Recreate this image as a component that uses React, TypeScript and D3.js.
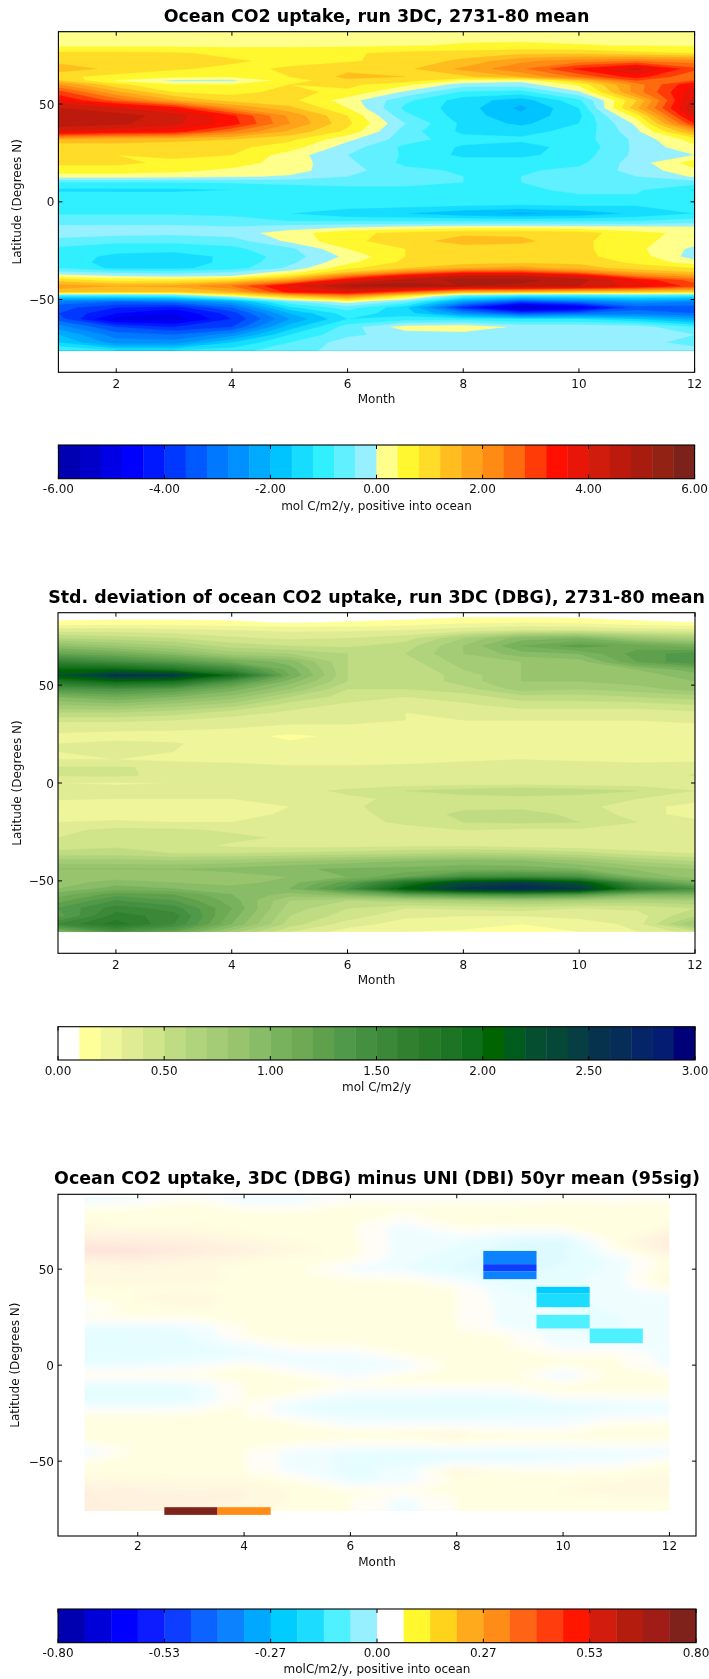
import React from "react";
import * as d3 from "d3";

const months = [1, 2, 3, 4, 5, 6, 7, 8, 9, 10, 11, 12];

const fluxLats = [87, 80, 76, 72, 68, 64, 62, 60, 56, 52, 48, 44, 40, 36, 32, 28, 24, 20, 16, 13, 10, 6, 2, -2, -6, -10, -13, -16, -20, -24, -28, -31, -34, -36, -38, -40, -43, -46, -48, -51, -54, -57, -60, -64, -68, -72, -76];
const fluxRows = [
  [.2, .2, .2, .2, .2, .2, .2, .2, .2, .2, .2, .2],
  [.3, .3, .3, .3, .3, .32, .36, .44, .46, .42, .38, .34],
  [.9, .9, .85, .7, .7, .75, .9, 1.0, 1.1, 1.1, .9, .8],
  [1.1, 1.1, 1.0, .85, .7, .75, .95, 1.3, 1.9, 2.2, 2.4, 2.2],
  [1.4, 1.1, .85, .7, .85, 1.1, 1.1, 1.7, 2.3, 3.3, 4.1, 2.9],
  [.9, .65, .5, .45, .8, 1.3, 1.2, 1.1, 1.6, 2.5, 3.4, 2.4],
  [1.2, .35, -.1, -.1, .6, 1.1, 1.0, .3, .1, 1.2, 2.8, 2.8],
  [2.0, .9, .4, .4, .8, .9, .5, -.2, -.2, .5, 2.2, 3.6],
  [3.0, 1.7, .8, .7, .9, .7, -.1, -.9, -1.0, -.1, 2.2, 3.9],
  [3.6, 2.6, 1.6, 1.0, .9, .2, -.7, -1.4, -1.8, -.9, 1.2, 4.2],
  [4.4, 4.0, 3.4, 2.0, 1.3, .4, -.9, -1.4, -2.1, -1.2, 1.5, 4.4],
  [4.6, 4.6, 4.2, 3.3, 1.9, .8, -.7, -1.4, -1.9, -1.3, .6, 4.0],
  [4.7, 4.5, 4.1, 3.4, 2.0, .9, -.4, -1.3, -1.7, -1.2, .1, 3.2],
  [3.9, 3.6, 3.4, 2.4, 1.5, .7, -.6, -1.3, -1.3, -1.1, -.1, 1.7],
  [1.6, 1.4, 1.3, 1.2, .9, .1, -.6, -1.05, -1.15, -1.0, -.3, .6],
  [.8, 1.0, 1.0, .9, .6, -.2, -.9, -1.25, -1.3, -1.1, -.3, .3],
  [.9, .8, .9, .8, .2, -.4, -.85, -1.3, -1.3, -1.0, -.3, .0],
  [.9, .9, .7, .6, .2, -.3, -.9, -1.0, -1.0, -.9, -.2, .6],
  [.6, .6, .5, .3, .15, -.25, -.7, -.85, -.85, -.7, -.25, .3],
  [.2, .2, .15, .05, -.05, -.4, -.7, -.8, -.8, -.7, -.4, .05],
  [-.8, -.8, -.8, -.75, -.7, -.7, -.75, -.8, -.8, -.75, -.7, -.6],
  [-1.3, -1.3, -1.3, -1.2, -1.0, -.9, -.85, -.85, -.85, -.75, -.75, -1.25],
  [-.85, -.9, -.9, -.9, -.85, -.85, -.8, -.85, -.85, -.85, -.85, -.9],
  [-.9, -.9, -.85, -.9, -.9, -1.0, -1.1, -1.2, -1.25, -1.2, -1.2, -.9],
  [-.85, -.85, -.85, -.85, -1.2, -1.5, -1.6, -1.9, -2.1, -1.9, -1.5, -1.2],
  [-.5, -.5, -.5, -.7, -.8, -.8, -.8, -.8, -.8, -.8, -.8, -.6],
  [-.35, -.35, -.35, -.35, -.2, -.05, .1, .2, .2, .15, .1, .05],
  [-.25, -.25, -.3, -.2, .2, .7, .9, 1.1, 1.1, 1.0, .5, .3],
  [-.5, -.7, -.7, -.6, .1, .7, 1.0, 1.4, 1.3, .9, .5, .2],
  [-.9, -1.05, -1.05, -.9, -.5, .4, .8, 1.0, 1.0, .9, .5, -.1],
  [-1.0, -1.3, -1.4, -1.1, -.6, .1, .8, .9, .9, .9, .6, -.2],
  [-1.0, -1.35, -1.4, -1.1, -.5, .3, .9, 1.0, 1.1, 1.1, .7, .2],
  [-.8, -1.3, -1.3, -1.0, -.3, .7, 1.2, 1.6, 1.8, 1.4, 1.0, .8],
  [-.3, -.5, -.6, -.4, .2, 1.2, 2.2, 3.0, 3.0, 2.4, 1.6, 1.2],
  [.2, 0, -.1, .0, .8, 2.4, 3.6, 4.4, 4.4, 3.8, 2.4, 1.8],
  [1.0, .6, .6, .9, 1.8, 3.6, 4.6, 4.9, 4.9, 4.6, 3.5, 2.6],
  [1.8, 1.6, 1.7, 2.4, 3.8, 4.8, 5.0, 4.8, 4.7, 4.4, 3.8, 3.0],
  [1.4, 1.2, 1.2, 1.6, 3.4, 3.9, 2.8, 1.6, 1.4, 1.2, 1.2, 1.0],
  [-1, -1.0, -.8, .3, 1.4, 2.2, .8, -.7, -1, -1, -.9, -1.0],
  [-3.0, -3.2, -3.0, -2.2, -.5, .2, -.5, -2.4, -3.6, -3, -2.5, -2.8],
  [-3.4, -4, -4.2, -3.2, -1.3, -.6, -1.5, -4.0, -5.6, -5.0, -3.4, -3.4],
  [-3.6, -4.4, -4.8, -3.8, -2.0, -1.0, -1.4, -2.6, -3.6, -3.2, -3, -3.2],
  [-3.4, -5, -5.1, -4.0, -2.4, -1.2, -1, -1.0, -1.2, -1.2, -1.6, -2.2],
  [-2.6, -3.6, -4.0, -3.6, -1.8, -.6, .2, .3, -.1, -.1, -.2, -.8],
  [-2.0, -3.0, -3.2, -2.6, -1.2, -.5, -.2, -.2, -.25, -.25, -.25, -.4],
  [-1.6, -2.6, -2.6, -1.6, -.8, -.2, -.25, -.25, -.25, -.25, -.3, -.5],
  [-.8, -1.2, -1.2, -1, -.5, -.3, -.25, -.25, -.25, -.25, -.25, -.3],
];

const stdLats = [87, 82, 78, 74, 70, 66, 62, 58, 55, 52, 48, 44, 40, 36, 32, 28, 24, 20, 16, 12, 8, 4, 0, -4, -8, -12, -16, -20, -24, -28, -32, -36, -40, -44, -48, -51, -54, -57, -60, -64, -68, -72, -76];
const stdRows = [
  [.02, .02, .02, .02, .02, .02, .02, .02, .02, .02, .02, .02],
  [.12, .13, .13, .12, .09, .11, .13, .18, .19, .17, .12, .1],
  [.35, .35, .33, .3, .28, .28, .3, .35, .4, .4, .35, .33],
  [.6, .55, .5, .42, .38, .4, .45, .7, .95, 1.0, .8, .7],
  [.9, .8, .7, .55, .5, .48, .55, .8, 1.1, 1.25, 1.15, 1.05],
  [1.2, 1.1, .95, .75, .7, .6, .6, .8, .95, 1.0, 1.25, 1.35],
  [1.6, 1.45, 1.3, 1.1, .95, .6, .55, .75, .8, .85, 1.2, 1.4],
  [2.0, 2.0, 1.8, 1.5, 1.05, .6, .5, .7, .8, .85, .9, 1.05],
  [2.2, 2.55, 2.5, 1.9, 1.1, .6, .5, .65, .8, .8, .85, .95],
  [1.8, 2.0, 1.9, 1.4, .95, .6, .5, .65, .8, .8, .85, .9],
  [1.35, 1.4, 1.3, 1.05, .8, .5, .5, .55, .75, .7, .75, .85],
  [1.0, 1.1, 1.0, .85, .6, .45, .4, .45, .55, .55, .6, .65],
  [.8, .85, .75, .65, .45, .38, .35, .38, .45, .45, .45, .5],
  [.6, .6, .55, .45, .38, .33, .3, .33, .35, .35, .35, .38],
  [.42, .42, .4, .35, .32, .32, .3, .3, .3, .3, .3, .33],
  [.33, .32, .32, .3, .28, .28, .27, .25, .27, .25, .25, .25],
  [.28, .27, .25, .25, .17, .23, .23, .22, .22, .22, .22, .22],
  [.3, .32, .31, .25, .22, .22, .22, .22, .22, .22, .22, .22],
  [.3, .31, .3, .24, .23, .23, .22, .23, .24, .23, .23, .23],
  [.3, .3, .27, .26, .27, .27, .27, .28, .3, .28, .27, .27],
  [.41, .41, .38, .35, .31, .31, .32, .35, .37, .37, .34, .37],
  [.41, .42, .37, .35, .33, .33, .33, .33, .33, .31, .32, .41],
  [.3, .29, .3, .31, .32, .33, .33, .34, .34, .33, .33, .33],
  [.33, .33, .32, .32, .36, .42, .5, .55, .6, .55, .5, .4],
  [.31, .3, .3, .3, .34, .38, .42, .45, .45, .45, .4, .35],
  [.25, .22, .2, .2, .3, .38, .45, .48, .48, .43, .35, .25],
  [.22, .2, .2, .25, .32, .36, .45, .52, .53, .48, .35, .25],
  [.3, .33, .3, .3, .32, .36, .42, .5, .52, .5, .4, .33],
  [.38, .42, .42, .38, .36, .34, .36, .4, .38, .38, .35, .34],
  [.4, .45, .45, .43, .38, .35, .4, .35, .33, .32, .34, .34],
  [.43, .48, .45, .38, .36, .36, .38, .38, .35, .32, .3, .3],
  [.55, .55, .5, .5, .52, .55, .58, .62, .6, .55, .45, .4],
  [.75, .75, .72, .75, .8, .85, .9, .95, .92, .82, .68, .6],
  [.9, .9, .9, .93, .98, 1.02, 1.03, 1.05, 1.05, 1.0, .88, .8],
  [.8, .85, .85, .85, .9, 1.0, 1.2, 1.45, 1.5, 1.4, 1.0, .85],
  [.85, .95, .9, .85, .95, 1.25, 1.8, 2.3, 2.45, 2.2, 1.4, 1.05],
  [.9, 1.05, 1.0, .95, 1.0, 1.4, 2.1, 2.55, 2.7, 2.5, 1.7, 1.4],
  [1.05, 1.25, 1.2, 1.0, .85, .95, 1.2, 1.35, 1.4, 1.3, 1.0, 1.0],
  [1.15, 1.4, 1.3, 1.05, .7, .6, .65, .7, .75, .7, .65, .7],
  [1.3, 1.55, 1.45, 1.1, .65, .5, .4, .42, .45, .4, .42, .5],
  [1.25, 1.65, 1.55, 1.05, .6, .45, .32, .3, .3, .35, .35, .6],
  [1.5, 1.75, 1.5, 1.0, .55, .35, .25, .25, .2, .2, .35, .8],
  [1.0, 1.4, 1.2, .75, .4, .25, .2, .18, .18, .2, .3, .45],
];

const diffLats = [87, 80, 72, 65, 60, 55, 50, 45, 40, 35, 30, 25, 20, 15, 10, 5, 0, -5, -10, -15, -20, -25, -30, -35, -40, -45, -50, -55, -60, -65, -70, -76];
const diffRows = [
  [-.08, -.03, .06, -.08, -.07, .06, .06, .06, .06, .06, .06, .06],
  [.12, .12, .12, .1, .09, .08, .08, .08, .08, .12, .09, .12],
  [.14, .13, .13, .1, .09, .08, -.04, .08, .08, .1, .09, .14],
  [.3, .28, .24, .17, .12, .09, -.04, -.06, -.15, -.2, .12, .32],
  [.5, .45, .36, .28, .17, .1, -.04, -.08, -.18, -.14, .06, .28],
  [.25, .3, .2, .14, .1, .08, -.05, -.12, -.2, -.15, -.05, .12],
  [.13, .15, .14, .12, .08, -.03, -.07, -.15, -.22, -.12, -.05, .12],
  [.16, .16, .18, .12, .09, .08, .07, -.05, -.12, -.1, -.03, .18],
  [.12, .12, .12, .1, .09, .09, .08, .07, -.08, -.08, -.05, .1],
  [.09, .14, .16, .12, .09, .08, .08, .07, -.05, -.08, -.05, -.08],
  [-.03, .1, .14, .12, .09, .08, .08, .07, -.03, -.08, -.06, -.05],
  [.08, .08, .08, .08, .08, .08, .08, .07, -.03, -.07, -.07, -.05],
  [-.08, -.08, -.06, .07, .07, .07, .07, .07, -.03, -.07, -.07, -.05],
  [-.1, -.1, -.07, .07, .1, .1, .1, .07, .07, -.05, -.07, -.05],
  [-.1, -.1, -.08, -.05, .07, .07, .07, .1, .07, -.03, -.03, -.05],
  [-.08, -.1, -.08, -.08, -.05, -.05, .07, .07, .07, .07, .07, -.03],
  [-.07, -.06, -.03, .07, -.05, -.07, -.05, .09, .09, .09, .09, -.03],
  [.08, .08, .09, .07, .07, -.04, .07, .14, .09, -.08, .09, .07],
  [-.08, -.08, -.07, .07, .08, .07, .07, .08, .07, .07, .07, .08],
  [-.1, -.1, -.08, .07, .07, -.04, -.04, -.05, -.05, .07, .08, .07],
  [-.08, -.08, -.07, .07, -.07, -.09, -.1, -.11, -.1, -.09, -.07, -.06],
  [.07, .07, .08, .07, -.06, -.08, -.09, -.09, -.08, -.07, -.06, -.04],
  [.09, .09, .09, .08, .08, -.04, -.04, -.04, -.04, -.04, .07, .07],
  [.1, .12, .12, .1, .12, .12, .14, .16, .08, .07, .12, .1],
  [.08, .1, .09, .09, .09, .07, .08, .12, .07, .07, .08, .07],
  [-.07, .08, .08, .07, -.04, -.08, -.1, -.1, -.08, -.07, -.07, -.06],
  [.07, .1, .09, .07, -.04, -.08, -.09, -.09, -.07, -.06, -.04, .07],
  [.08, .1, .1, .08, -.04, -.08, -.05, .22, .1, .07, .1, .12],
  [.16, .16, .14, .14, .08, -.08, -.06, .08, .07, .1, .13, .18],
  [.27, .22, .2, .2, .12, .07, .07, .09, .1, .14, .16, .18],
  [.28, .24, .22, .2, .12, .07, -.03, .07, .09, .1, .12, .12],
  [.3, .27, .2, .18, .09, .07, -.03, .07, .08, .08, .09, .09],
];

// Significant cells of the difference field: month, northern and southern latitude edge, value.
const sigMonth = [9, 9, 9, 10, 10, 10, 11, 3, 4];
const sigNorth = [59.5, 52.6, 48.8, 40.8, 37.3, 26.2, 19.1, -74, -74];
const sigSouth = [52.6, 48.8, 44.8, 37.3, 30.2, 19.1, 11.5, -78, -78];
const sigValue = [-.37, -.47, -.37, -.24, -.17, -.1, -.1, .77, .3];

const fluxLevels = d3.range(31).map((i) => -6 + i * 0.4);
const stdLevels = d3.range(31).map((i) => i * 0.1);
const diffLevels = d3.range(25).map((i) => -0.8 + (i * 1.6) / 24);

const fluxColors = ["#0000b0", "#0000c8", "#0000e6", "#0000ff", "#0018ff", "#0038ff", "#0058ff", "#0078ff", "#0090ff", "#00aaff", "#00c4ff", "#16dcff", "#30f0ff", "#60f0ff", "#96f0ff", "#ffff8c", "#fff82e", "#ffdc28", "#ffbe1e", "#ffa31a", "#ff8a14", "#ff6a0f", "#ff3c08", "#ff0f00", "#e81608", "#d01c0a", "#bc1a0c", "#a81c10", "#922214", "#7c221a"];
const stdColors = ["#ffffff", "#ffff99", "#eff59b", "#e0ec93", "#d0e48a", "#c0dc82", "#b0d47c", "#a4cc76", "#98c46e", "#88bc66", "#78b25c", "#6eaa54", "#5ea04c", "#50984a", "#449040", "#3a8838", "#308030", "#267a28", "#1c7424", "#0e6e1c", "#006400", "#005c1c", "#054e30", "#064838", "#063e44", "#06324e", "#062c58", "#062468", "#041c72", "#000078"];
const diffColors = ["#0000b0", "#0000d8", "#0000ff", "#0a1eff", "#0a3cff", "#0a64ff", "#0a82ff", "#00a8ff", "#00ccff", "#1edcff", "#50f0ff", "#96f0ff", "#ffffff", "#fff82e", "#ffd21e", "#ffaa1e", "#ff8c14", "#ff6414", "#ff3c0a", "#ff1400", "#d21e0a", "#b41e0f", "#a01e14", "#80221a"];
// The washed-out field has no pure white band: its zero bin is a faint cream.
const diffFieldColors = diffColors.map((c, i) => (i === 12 ? "#ffeebb" : c));

const xTicks = [2, 4, 6, 8, 10, 12];
const yTicks = [50, 0, -50];
const fluxBarTicks = [-6, -4, -2, 0, 2, 4, 6];
const fluxBarLabels = ["-6.00", "-4.00", "-2.00", "0.00", "2.00", "4.00", "6.00"];
const stdBarTicks = [0, 0.5, 1, 1.5, 2, 2.5, 3];
const stdBarLabels = ["0.00", "0.50", "1.00", "1.50", "2.00", "2.50", "3.00"];
const diffBarTicks = [-0.8, -0.5333, -0.2667, 0, 0.2667, 0.5333, 0.8];
const diffBarLabels = ["-0.80", "-0.53", "-0.27", "0.00", "0.27", "0.53", "0.80"];

const FONT = "DejaVu Sans";
const TXT = "#111";

type Box = { left: number; right: number; top: number; bottom: number };

function Contours({ rows, lats, levels, colors, x, y }: any) {
  const dx = months.length;
  const dy = lats.length;
  const flat = (rows as number[][]).flat();
  const gx = d3.scaleLinear().domain([0.5, dx - 0.5]).range([x(1), x(12)]);
  const gy = d3.scaleLinear().domain(lats.map((_: number, i: number) => i + 0.5)).range(lats.map((l: number) => y(l)));
  const path = d3.geoPath(
    d3.geoTransform({
      point(px: number, py: number) {
        (this as any).stream.point(gx(px), gy(py));
      },
    })
  );
  const gen = d3.contours().size([dx, dy]);
  return (
    <>
      {colors.map((c: string, i: number) => (
        <path key={i} d={path(gen.contour(flat, i === 0 ? -1e6 : levels[i])) || ""} fill={c} stroke={c} strokeWidth={0.3} fillRule="evenodd" />
      ))}
    </>
  );
}

function Frame({ box, title, titleY, x, y, xt, xLabelY, xTickY, yLabelX }: any) {
  const b: Box = box;
  return (
    <g fontFamily={FONT} fill={TXT}>
      <rect x={b.left} y={b.top} width={b.right - b.left} height={b.bottom - b.top} fill="none" stroke="#000" strokeWidth={1.1} />
      {xt.map((t: number) => (
        <g key={t}>
          <line x1={x(t)} x2={x(t)} y1={b.bottom} y2={b.bottom - 4} stroke="#000" />
          <line x1={x(t)} x2={x(t)} y1={b.top} y2={b.top + 4} stroke="#000" />
          <text x={x(t)} y={xTickY} textAnchor="middle" fontSize={12}>{t}</text>
        </g>
      ))}
      {yTicks.map((t) => (
        <g key={t}>
          <line x1={b.left} x2={b.left + 4} y1={y(t)} y2={y(t)} stroke="#000" />
          <line x1={b.right} x2={b.right - 4} y1={y(t)} y2={y(t)} stroke="#000" />
          <text x={b.left - 4} y={y(t) + 4.5} textAnchor="end" fontSize={12}>{t < 0 ? "\u2212" + -t : t}</text>
        </g>
      ))}
      <text x={(b.left + b.right) / 2} y={xLabelY} textAnchor="middle" fontSize={12}>Month</text>
      <text transform={`translate(${yLabelX},${y(0)}) rotate(-90)`} textAnchor="middle" fontSize={12}>Latitude (Degrees N)</text>
      <text x={(b.left + b.right) / 2} y={titleY} textAnchor="middle" fontSize={17.45} fontWeight="bold" fill="#000">{title}</text>
    </g>
  );
}

function ColorBar({ box, levels, colors, ticks, labels, label, labelY, tickY }: any) {
  const b: Box = box;
  const s = d3.scaleLinear().domain([levels[0], levels[levels.length - 1]]).range([b.left, b.right]);
  return (
    <g fontFamily={FONT} fill={TXT}>
      {colors.map((c: string, i: number) => (
        <rect key={i} x={s(levels[i])} y={b.top} width={s(levels[i + 1]) - s(levels[i]) + 0.4} height={b.bottom - b.top} fill={c} />
      ))}
      <rect x={b.left} y={b.top} width={b.right - b.left} height={b.bottom - b.top} fill="none" stroke="#000" strokeWidth={1.1} />
      {ticks.map((t: number, i: number) => (
        <g key={t}>
          <line x1={s(t)} x2={s(t)} y1={b.bottom} y2={b.bottom - 4} stroke="#000" />
          <line x1={s(t)} x2={s(t)} y1={b.top} y2={b.top + 4} stroke="#000" />
          <text x={s(t)} y={tickY} textAnchor="middle" fontSize={12}>{labels[i]}</text>
        </g>
      ))}
      <text x={(b.left + b.right) / 2} y={labelY} textAnchor="middle" fontSize={12}>{label}</text>
    </g>
  );
}

export default function App() {
  const b1: Box = { left: 58.4, right: 694.6, top: 31.7, bottom: 372.3 };
  const x1 = d3.scaleLinear().domain([1, 12]).range([b1.left, b1.right]);
  const y1 = d3.scaleLinear().domain([87, -87.2]).range([b1.top, b1.bottom]);

  const b2: Box = { left: 58, right: 695, top: 612.7, bottom: 953.3 };
  const x2 = d3.scaleLinear().domain([1, 12]).range([b2.left, b2.right]);
  const y2 = d3.scaleLinear().domain([87, -87]).range([b2.top, b2.bottom]);

  const b3: Box = { left: 58, right: 696, top: 1194.3, bottom: 1536 };
  const x3 = d3.scaleLinear().domain([0.5, 12.5]).range([b3.left, b3.right]);
  const y3 = d3.scaleLinear().domain([89, -89]).range([b3.top, b3.bottom]);

  const diffColor = d3.scaleQuantize<string>().domain([-0.8, 0.8]).range(diffColors);

  return (
    <svg width={709} height={1679} style={{ position: "absolute", left: 0, top: 0, display: "block", background: "#fff", filter: "blur(0.35px)" }}>
      <defs>
        <clipPath id="c1"><rect x={x1(1)} y={y1(87)} width={x1(12) - x1(1)} height={y1(-76) - y1(87)} /></clipPath>
        <clipPath id="c2"><rect x={x2(1)} y={y2(87)} width={x2(12) - x2(1)} height={y2(-76) - y2(87)} /></clipPath>
        <clipPath id="c3"><rect x={x3(1)} y={y3(87.5)} width={x3(12) - x3(1)} height={y3(-76) - y3(87.5)} /></clipPath>
        <filter id="soft" x="-5%" y="-5%" width="110%" height="110%"><feGaussianBlur stdDeviation={3.5} /></filter>
        <filter id="soft2" x="-5%" y="-5%" width="110%" height="110%"><feGaussianBlur stdDeviation={0.5} /></filter>
      </defs>

      <g clipPath="url(#c1)">
        <Contours rows={fluxRows} lats={fluxLats} levels={fluxLevels} colors={fluxColors} x={x1} y={y1} />
      </g>
      <Frame box={b1} title="Ocean CO2 uptake, run 3DC, 2731-80 mean" titleY={22} x={x1} y={y1} xt={xTicks} xTickY={388} xLabelY={403} yLabelX={21} />
      <ColorBar box={{ left: 58.4, right: 694.6, top: 445, bottom: 478.7 }} levels={fluxLevels} colors={fluxColors} ticks={fluxBarTicks} labels={fluxBarLabels} label="mol C/m2/y, positive into ocean" tickY={493} labelY={509.5} />

      <g clipPath="url(#c2)">
        <Contours rows={stdRows} lats={stdLats} levels={stdLevels} colors={stdColors} x={x2} y={y2} />
      </g>
      <Frame box={b2} title="Std. deviation of ocean CO2 uptake, run 3DC (DBG), 2731-80 mean" titleY={603} x={x2} y={y2} xt={xTicks} xTickY={969} xLabelY={984} yLabelX={21} />
      <ColorBar box={{ left: 58, right: 695, top: 1026.7, bottom: 1060 }} levels={stdLevels} colors={stdColors} ticks={stdBarTicks} labels={stdBarLabels} label="mol C/m2/y" tickY={1074.5} labelY={1091} />

      <g clipPath="url(#c3)">
        <g filter="url(#soft)" opacity={0.14}>
          <Contours rows={diffRows} lats={diffLats} levels={diffLevels} colors={diffFieldColors} x={x3} y={y3} />
        </g>
      </g>
      <g filter="url(#soft2)">
        {sigMonth.map((m, i) => (
          <rect key={i} x={x3(m - 0.5)} y={y3(sigNorth[i])} width={x3(m + 0.5) - x3(m - 0.5)} height={y3(sigSouth[i]) - y3(sigNorth[i])} fill={diffColor(sigValue[i])} />
        ))}
      </g>
      <g filter="url(#soft2)">
        <Frame box={b3} title="Ocean CO2 uptake, 3DC (DBG) minus UNI (DBI) 50yr mean (95sig)" titleY={1184} x={x3} y={y3} xt={xTicks} xTickY={1550} xLabelY={1566} yLabelX={19} />
        <ColorBar box={{ left: 58, right: 696, top: 1609, bottom: 1642.7 }} levels={diffLevels} colors={diffColors} ticks={diffBarTicks} labels={diffBarLabels} label="molC/m2/y, positive into ocean" tickY={1656.5} labelY={1672.5} />
      </g>
    </svg>
  );
}
